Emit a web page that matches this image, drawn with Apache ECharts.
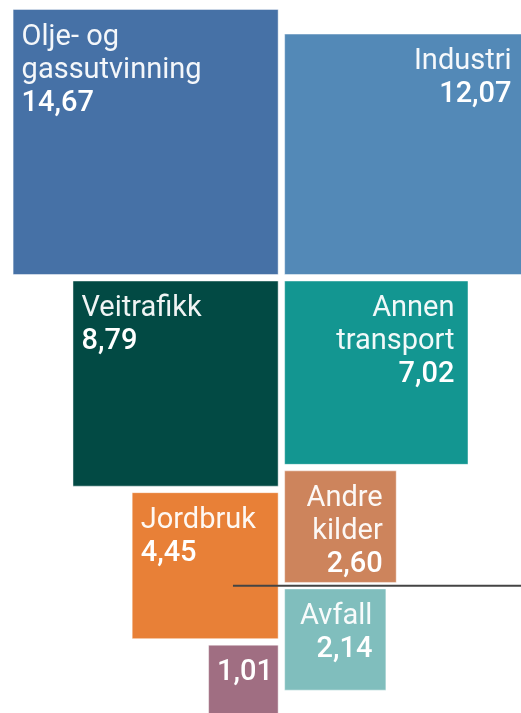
<!DOCTYPE html>
<html>
<head>
<meta charset="utf-8">
<script src="https://cdn.jsdelivr.net/npm/echarts@6/dist/echarts.min.js"></script>
<style>
  html, body { margin: 0; padding: 0; background: #fff; }
  #chart { width: 521px; height: 713px; }
</style>
</head>
<body>
<div id="chart"></div>
<script>
// Utslipp etter kilde (mill. tonn CO2-ekvivalenter)
const names = ['Olje- og\ngassutvinning', 'Veitrafikk', 'Jordbruk', '', 'Industri', 'Annen\ntransport', 'Andre\nkilder', 'Avfall'];
const values = [14.67, 8.79, 4.45, 1.01, 12.07, 7.02, 2.60, 2.14];
const columns = ['left', 'left', 'left', 'left', 'right', 'right', 'right', 'right'];
const colors = ['#4671a6', '#024a44', '#e88037', '#a06e82', '#5389b7', '#139691', '#cd845c', '#80bebd'];

const W = 521, H = 713;
const unit = 69.2;          // px per sqrt(value)
const gap = 6.5 / unit;     // gap between squares, in axis units
const cx = 281.4, cy = 277.75;  // where the two columns meet
const leaderStart = -0.7;

const fmt = v => v.toFixed(2).replace('.', ',');

// first square of each column sits above the cross, the rest stack downwards
function layout() {
  const boxes = [];
  const nextY = { left: gap / 2, right: gap / 2 };
  const placed = { left: false, right: false };
  values.forEach((v, i) => {
    const col = columns[i];
    const s = Math.sqrt(v);
    const x0 = col === 'left' ? -gap / 2 - s : gap / 2;
    let y0;
    if (!placed[col]) {
      y0 = -gap / 2 - s;
      placed[col] = true;
    } else {
      y0 = nextY[col];
      nextY[col] += s + gap;
    }
    boxes.push([x0, y0, x0 + s, y0 + s, i]);
  });
  return boxes;
}

const boxes = layout();
const xMax = (W - cx) / unit;
// thin rule running through the gap between "Andre kilder" and "Avfall"
const lineY = boxes[6][3] + gap / 2;

const chart = echarts.init(document.getElementById('chart'));

const option = {
  animation: false,
  grid: { left: 0, right: 0, top: 0, bottom: 0 },
  xAxis: { type: 'value', min: -cx / unit, max: xMax, show: false },
  yAxis: { type: 'value', inverse: true, min: -cy / unit, max: (H - cy) / unit, show: false },
  series: [
    {
      type: 'custom',
      data: boxes,
      renderItem: (params, api) => {
        const p0 = api.coord([api.value(0), api.value(1)]);
        const p1 = api.coord([api.value(2), api.value(3)]);
        const i = api.value(4);
        const right = columns[i] === 'right';
        const align = right ? 'right' : 'left';
        const label = (names[i] ? '{n|' + names[i] + '}\n' : '') + '{v|' + fmt(values[i]) + '}';
        return {
          type: 'rect',
          shape: { x: p0[0], y: p0[1], width: p1[0] - p0[0], height: p1[1] - p0[1] },
          style: { fill: colors[i], stroke: 'rgba(255,255,255,0.45)', lineWidth: 1 },
          textContent: {
            style: {
              text: label,
              fill: '#fff',
              align: align,
              rich: {
                n: { fontFamily: 'Roboto', fontSize: 29, lineHeight: 33, fill: 'rgba(255,255,255,0.94)', align: align },
                v: { fontFamily: 'Roboto', fontSize: 29, fontWeight: 500, lineHeight: 33, fill: '#fff', align: align }
              }
            }
          },
          textConfig: {
            position: right ? 'insideTopRight' : 'insideTopLeft',
            distance: 9,
            offset: right ? [-5, 3] : [0, 3]
          }
        };
      }
    },
    {
      type: 'line',
      data: [[leaderStart, lineY], [xMax, lineY]],
      symbol: 'none',
      z: 5,
      lineStyle: { color: '#444', width: 2 }
    }
  ]
};

chart.setOption(option);
</script>
</body>
</html>
